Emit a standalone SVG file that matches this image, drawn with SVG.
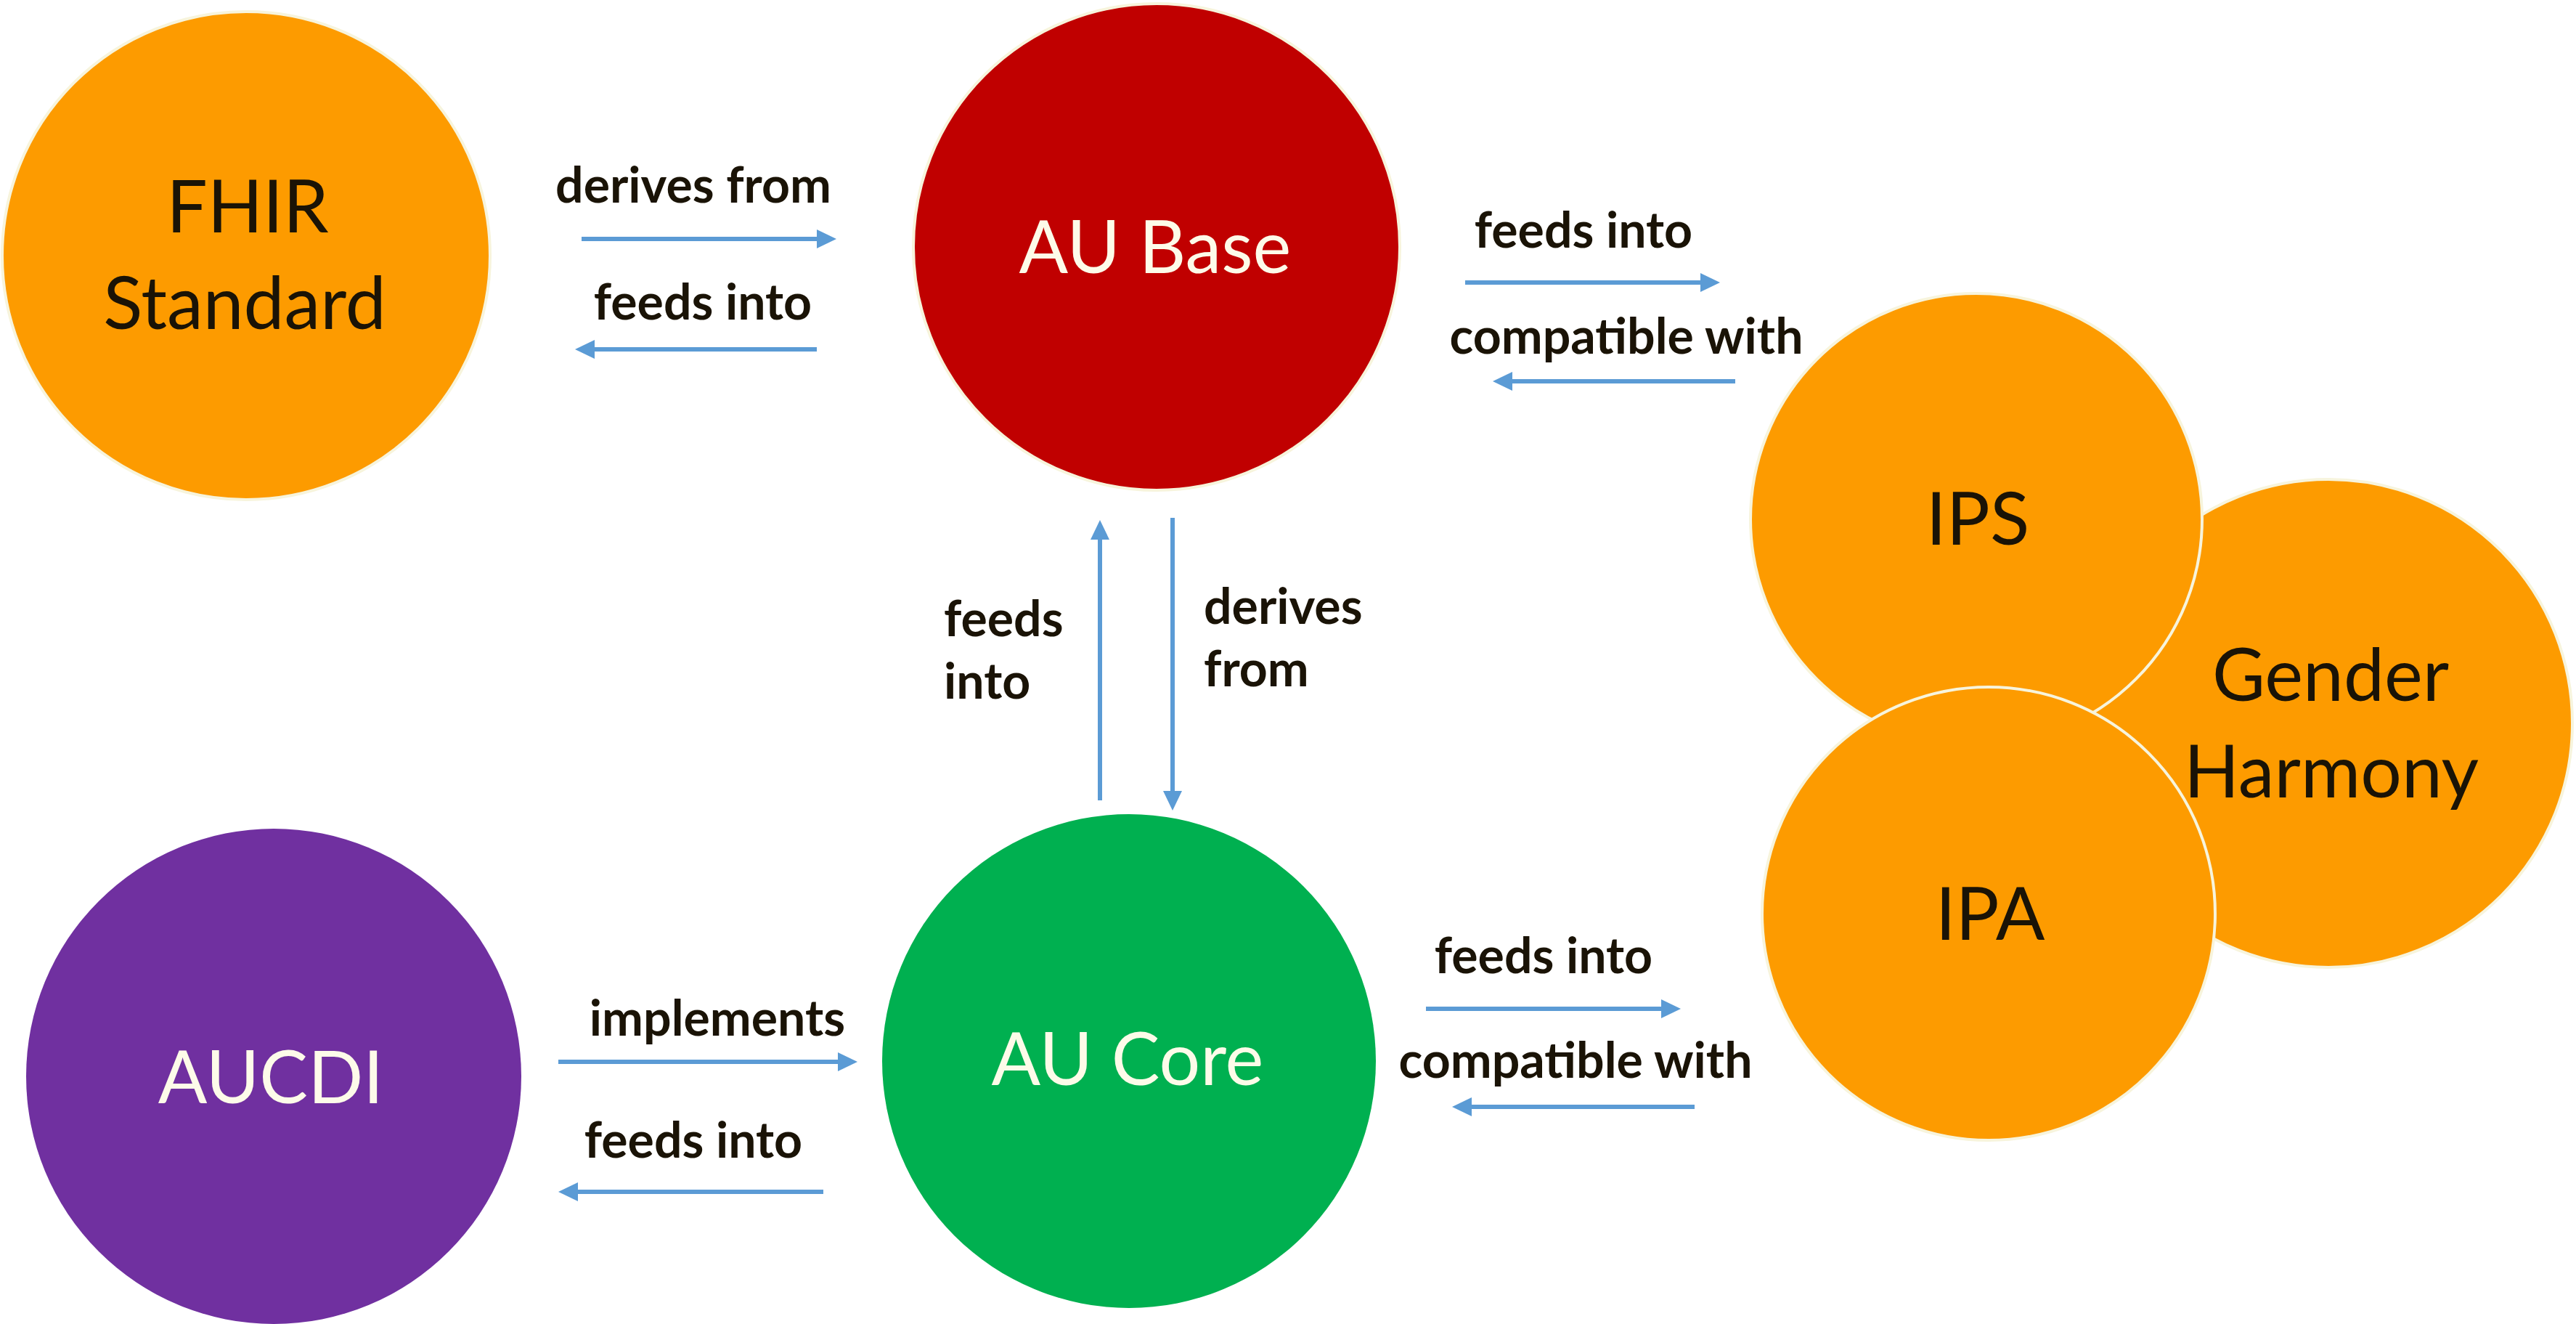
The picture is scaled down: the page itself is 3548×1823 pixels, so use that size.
<svg xmlns="http://www.w3.org/2000/svg" width="3548" height="1823" viewBox="0 0 3548 1823">
<style>
.node{stroke:#f7f4dc;stroke-width:4}
.orange{fill:#fd9b00}
.red{fill:#c00000}
.green{fill:#00b050;stroke:none}
.purple{fill:#7030a0;stroke:none}
.nt{font-family:Lato,"Open Sans","Liberation Sans",sans-serif;font-size:100px;text-anchor:middle}
.dark{fill:#1a1306}
.light{fill:#fdfbe9}
.lbl{font-family:Lato,"Liberation Sans",sans-serif;font-weight:bold;font-size:68px;fill:#1a1306;text-anchor:middle}
.lbl.start{text-anchor:start}
.conn line{stroke:#5b9bd5;stroke-width:6;marker-end:url(#arr)}
</style>
<defs>
<marker id="arr" viewBox="0 0 27 26" refX="3" refY="13" markerWidth="27" markerHeight="26" markerUnits="userSpaceOnUse" orient="auto">
<path d="M0,0 L27,13 L0,26 z" fill="#5b9bd5"/>
</marker>
</defs>
<rect width="3548" height="1823" fill="#ffffff"/>
<g id="fhir">
<circle class="node orange" cx="339" cy="352" r="336"/>
<text class="nt dark" x="341" y="320">FHIR</text>
<text class="nt dark" x="337" y="453">Standard</text>
</g>
<g id="aubase">
<circle class="node red" cx="1593" cy="340" r="335"/>
<text class="nt light" x="1591" y="376">AU Base</text>
</g>
<g id="genderharmony">
<circle class="node orange" cx="3207" cy="996" r="336"/>
<text class="nt dark" x="3210" y="965">Gender</text>
<text class="nt dark" x="3211" y="1098">Harmony</text>
</g>
<g id="ips">
<circle class="node orange" cx="2722" cy="715" r="311"/>
<text class="nt dark" x="2724" y="750">IPS</text>
</g>
<g id="ipa">
<circle class="node orange" cx="2739" cy="1258" r="312"/>
<text class="nt dark" x="2741" y="1294">IPA</text>
</g>
<g id="aucdi">
<circle class="node purple" cx="377" cy="1482" r="341"/>
<text class="nt light" x="373" y="1519">AUCDI</text>
</g>
<g id="aucore">
<circle class="node green" cx="1555" cy="1461" r="340"/>
<text class="nt light" x="1553" y="1494">AU Core</text>
</g>
<g id="connectors" class="conn">
<line x1="801" y1="329" x2="1128" y2="329"/>
<line x1="1125" y1="481" x2="816" y2="481"/>
<line x1="2018" y1="389" x2="2345" y2="389"/>
<line x1="2390" y1="525" x2="2080" y2="525"/>
<line x1="1515" y1="1102" x2="1515" y2="740"/>
<line x1="1615" y1="713" x2="1615" y2="1092"/>
<line x1="769" y1="1462" x2="1157" y2="1462"/>
<line x1="1134" y1="1641" x2="793" y2="1641"/>
<line x1="1964" y1="1389" x2="2291" y2="1389"/>
<line x1="2334" y1="1524" x2="2024" y2="1524"/>
</g>
<g id="labels">
<text class="lbl" x="955" y="279">derives from</text>
<text class="lbl" x="968" y="440">feeds into</text>
<text class="lbl" x="2181" y="341">feeds into</text>
<text class="lbl" x="2240" y="487">compatible with</text>
<text class="lbl start" x="1300" y="876">feeds</text>
<text class="lbl start" x="1300" y="962">into</text>
<text class="lbl start" x="1658" y="859">derives</text>
<text class="lbl start" x="1658" y="945">from</text>
<text class="lbl" x="988" y="1426">implements</text>
<text class="lbl" x="955" y="1594">feeds into</text>
<text class="lbl" x="2126" y="1340">feeds into</text>
<text class="lbl" x="2170" y="1484">compatible with</text>
</g>
</svg>
